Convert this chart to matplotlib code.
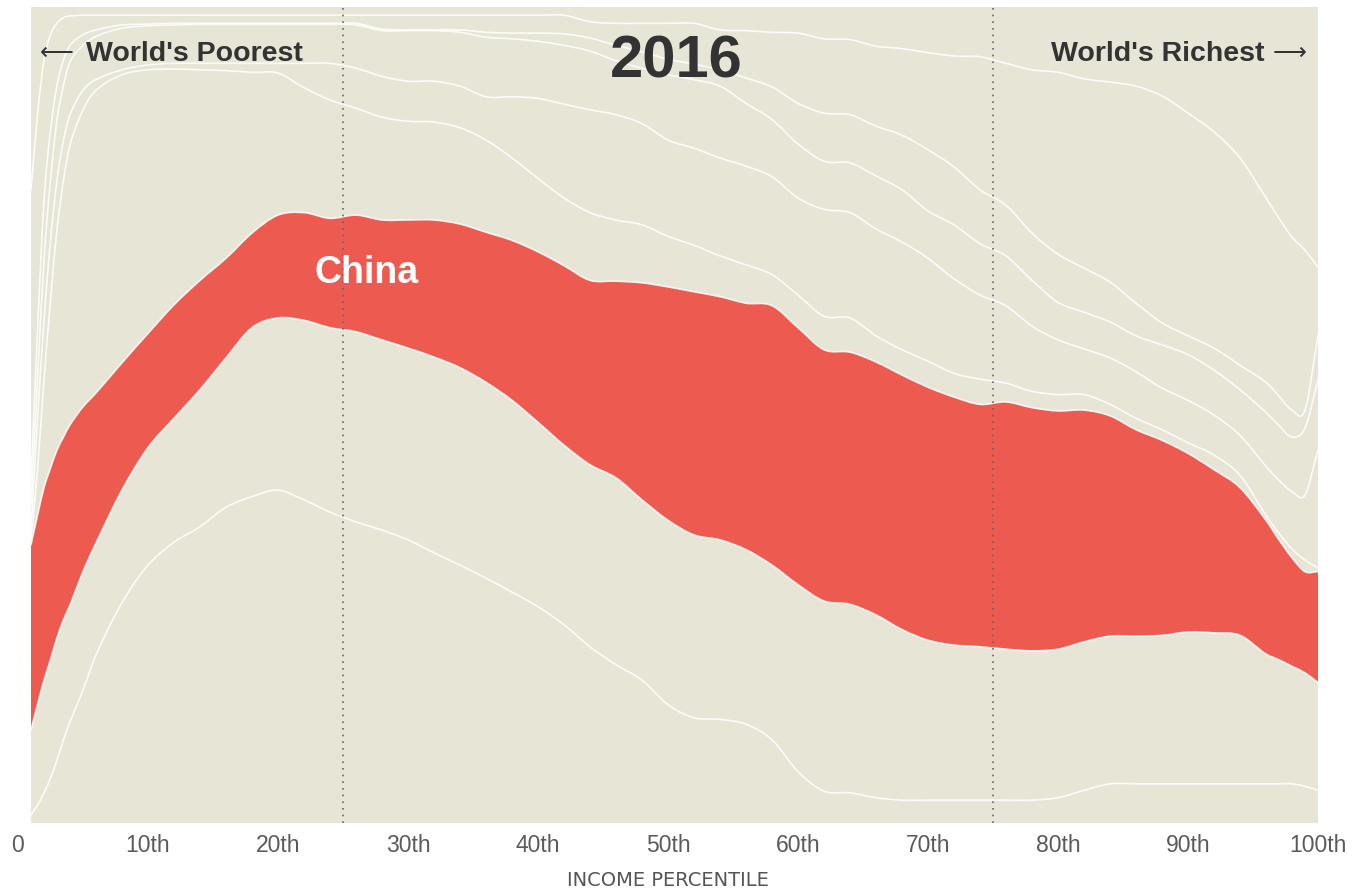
import matplotlib
matplotlib.use("Agg")
import matplotlib.pyplot as plt
from matplotlib.path import Path
from matplotlib.patches import PathPatch

# income percentile sample points
pct = [1, 1.5, 2, 2.5, 3, 3.5, 4, 5, 6,
       8, 10, 12, 14, 16, 18, 20, 22, 24, 26, 28, 30, 32, 34, 36, 38, 40,
       42, 44, 46, 48, 50, 52, 54, 56, 58, 60, 62, 64, 66, 68, 70, 72, 74,
       76, 78, 80, 82, 84, 86, 88, 90, 92, 94, 96, 97, 98, 99, 100]

# stacked boundaries (cumulative share, bottom to top)
lowest = [1.0, 2.2, 3.7, 5.5, 7.7, 10.2, 12.4, 16.3, 20.6,
          27.0, 31.6, 34.4, 36.3, 38.7, 40.0, 40.8, 39.6, 38.1, 36.9, 35.9, 34.7, 33.1, 31.6, 30.0, 28.3, 26.5,
          24.3, 21.6, 19.4, 17.5, 14.5, 12.9, 12.7, 12.1, 10.2, 6.3, 3.9, 3.7, 3.1, 2.8, 2.8, 2.8, 2.8,
          2.8, 2.8, 3.1, 4.0, 4.8, 4.8, 4.8, 4.8, 4.8, 4.8, 4.8, 4.8, 4.8, 4.5, 4.0]
china_low = [11.4, 14.5, 17.5, 20.0, 22.7, 24.9, 26.7, 30.8, 34.3,
             40.8, 46.0, 49.6, 53.1, 57.0, 60.7, 61.9, 61.6, 60.7, 60.2, 59.2, 58.2, 57.1, 55.8, 54.0, 51.8, 49.1,
             46.3, 43.9, 42.3, 39.6, 37.1, 35.3, 34.7, 33.5, 31.6, 29.2, 27.2, 26.8, 25.5, 23.7, 22.4, 21.8, 21.6,
             21.3, 21.1, 21.3, 22.2, 22.9, 22.9, 23.0, 23.4, 23.3, 23.0, 20.7, 20.0, 19.2, 18.4, 17.2]
china_high = [34.1, 37.7, 41.1, 43.5, 45.7, 47.3, 48.8, 51.0, 52.7,
              56.4, 60.0, 63.5, 66.5, 69.2, 72.3, 74.5, 74.8, 74.1, 74.5, 73.9, 73.9, 73.9, 73.4, 72.4, 71.4, 70.0,
              68.3, 66.5, 66.4, 66.2, 65.7, 65.1, 64.5, 63.7, 63.4, 60.7, 58.0, 57.7, 56.5, 54.9, 53.4, 52.2, 51.3,
              51.6, 50.9, 50.5, 50.6, 49.9, 48.2, 46.9, 45.3, 43.3, 41.1, 37.1, 34.7, 32.5, 30.8, 30.8]
band_a = [34.7, 43.3, 54.3, 64.1, 72.7, 78.8, 83.1, 87.4, 89.8,
          91.7, 92.3, 92.4, 92.3, 92.2, 92.0, 91.9, 90.1, 88.6, 87.6, 86.5, 86.0, 85.9, 85.2, 83.7, 81.5, 79.0,
          76.6, 74.8, 73.9, 73.3, 71.9, 70.8, 69.5, 68.4, 67.2, 64.7, 62.1, 61.9, 59.7, 58.0, 56.6, 55.1, 54.4,
          53.9, 52.9, 52.5, 52.5, 51.3, 49.6, 48.2, 46.6, 45.1, 42.6, 37.7, 35.5, 33.6, 32.2, 31.3]
band_b = [35.9, 49.4, 61.6, 71.4, 78.8, 83.7, 86.8, 89.8, 91.1,
          92.3, 92.9, 93.1, 93.1, 93.1, 93.1, 93.1, 93.1, 93.1, 92.5, 91.5, 90.9, 90.9, 90.3, 89.0, 89.0, 88.8,
          88.1, 87.4, 86.8, 85.7, 83.7, 82.7, 81.5, 80.5, 79.2, 76.6, 75.2, 74.8, 72.8, 71.2, 69.2, 66.7, 64.7,
          63.4, 60.9, 59.2, 58.1, 57.0, 55.3, 53.3, 51.8, 50.0, 47.5, 43.7, 42.0, 40.6, 40.2, 45.7]
band_c = [39.0, 54.3, 69.0, 78.8, 86.2, 90.4, 93.3, 95.3, 96.4,
          97.4, 97.7, 97.8, 97.9, 97.9, 97.9, 97.9, 97.9, 97.9, 97.8, 97.1, 97.1, 97.1, 96.9, 96.3, 96.1, 95.8,
          95.3, 94.6, 93.4, 92.5, 91.7, 91.1, 90.3, 88.2, 86.2, 83.2, 81.1, 80.9, 79.3, 77.6, 75.0, 73.3, 71.0,
          69.5, 66.5, 63.8, 62.6, 61.4, 59.7, 58.6, 57.4, 55.5, 53.1, 50.3, 48.7, 47.3, 48.4, 54.3]
band_d = [42.0, 60.4, 76.3, 84.9, 90.4, 93.5, 95.3, 96.6, 97.2,
          97.8, 97.9, 98.0, 98.0, 98.0, 98.0, 98.0, 98.0, 98.0, 98.0, 97.3, 97.2, 97.2, 97.2, 96.9, 96.8, 96.8,
          96.7, 96.2, 95.3, 94.5, 93.6, 93.0, 92.3, 91.3, 90.2, 88.2, 87.0, 86.8, 85.4, 84.3, 82.5, 80.4, 77.6,
          75.7, 72.3, 69.7, 68.0, 66.3, 63.7, 61.3, 59.7, 58.2, 56.1, 54.0, 52.3, 50.6, 50.6, 59.8]
band_e = [77.6, 86.8, 93.5, 96.6, 98.0, 98.7, 98.9, 99.0, 99.0,
          99.0, 99.0, 99.0, 99.0, 99.0, 99.0, 99.0, 99.0, 99.0, 99.0, 99.0, 99.0, 99.0, 99.0, 99.0, 99.0, 99.0,
          99.0, 98.2, 98.0, 98.0, 98.0, 98.0, 97.2, 97.1, 96.9, 96.8, 96.1, 96.0, 95.2, 94.9, 94.4, 94.0, 93.9,
          93.1, 92.3, 92.0, 91.2, 90.8, 90.3, 89.1, 87.0, 84.7, 81.5, 76.6, 74.1, 71.8, 70.2, 68.1]

tick_pos = [0, 10, 20, 30, 40, 50, 60, 70, 80, 90, 100]
tick_text = ["0", "10th", "20th", "30th", "40th", "50th", "60th", "70th", "80th", "90th", "100th"]

beige = "#E7E5D6"
red = "#EC5A50"


def smooth(xs, ys):
    # cubic hermite through the points, as bezier segments
    n = len(xs)
    m = []
    for i in range(n):
        j0, j1 = max(i - 1, 0), min(i + 1, n - 1)
        m.append((ys[j1] - ys[j0]) / (xs[j1] - xs[j0]))
    verts = [(xs[0], ys[0])]
    codes = [Path.MOVETO]
    for i in range(n - 1):
        h = xs[i + 1] - xs[i]
        verts += [(xs[i] + h / 3, ys[i] + m[i] * h / 3),
                  (xs[i + 1] - h / 3, ys[i + 1] - m[i + 1] * h / 3),
                  (xs[i + 1], ys[i + 1])]
        codes += [Path.CURVE4] * 3
    return verts, codes


fig = plt.figure(figsize=(13.67, 8.94), dpi=100)
ax = fig.add_axes([18 / 1367, 71 / 894, 1300 / 1367, 816 / 894])
ax.set_xlim(0, 100)
ax.set_ylim(0, 100)
ax.axvspan(1, 100, color=beige, lw=0, zorder=0)

# China band
v1, c1 = smooth(pct, china_high)
v2, c2 = smooth(pct[::-1], china_low[::-1])
c2[0] = Path.LINETO
verts = v1 + v2 + [v1[0]]
codes = c1 + c2 + [Path.CLOSEPOLY]
ax.add_patch(PathPatch(Path(verts, codes), facecolor=red, edgecolor="none", zorder=1))

for line in [lowest, china_low, china_high, band_a, band_b, band_c, band_d, band_e]:
    v, c = smooth(pct, line)
    ax.add_patch(PathPatch(Path(v, c), facecolor="none", edgecolor="white",
                           lw=1.2, alpha=0.85, zorder=2, capstyle="round"))

for p in [25, 75]:
    ax.axvline(p, color="#666666", lw=1.2, ls=(0, (1, 3)), zorder=3)

for s in ax.spines.values():
    s.set_visible(False)
ax.set_yticks([])
ax.set_xticks(tick_pos)
ax.set_xticklabels(tick_text, fontsize=16.5, color="#5a5a5a", family="Liberation Sans")
ax.tick_params(axis="x", length=0, pad=8)

ax.text(50.6, 93.2, "2016", ha="center", va="center", fontsize=43,
        fontweight="bold", color="#333333", family="Liberation Sans", zorder=5)
ax.text(3.0, 94.4, "\u27f5", ha="center", va="center", fontsize=17,
        color="#333333", family="DejaVu Sans", zorder=5)
ax.text(5.2, 94.2, "World's Poorest", ha="left", va="center", fontsize=20.5,
        fontweight="bold", color="#333333", family="Liberation Sans", zorder=5)
ax.text(97.85, 94.4, "\u27f6", ha="center", va="center", fontsize=17,
        color="#333333", family="DejaVu Sans", zorder=5)
ax.text(95.9, 94.2, "World's Richest", ha="right", va="center", fontsize=20.5,
        fontweight="bold", color="#333333", family="Liberation Sans", zorder=5)
ax.text(22.8, 67.4, "China", ha="left", va="center", fontsize=27,
        fontweight="bold", color="white", family="Liberation Sans", zorder=5)

fig.text(668 / 1367, 1 - 880 / 894, "INCOME PERCENTILE", ha="center", va="center",
         fontsize=14, color="#555555", family="DejaVu Sans")

fig.savefig("out.png", dpi=100, facecolor="white")
